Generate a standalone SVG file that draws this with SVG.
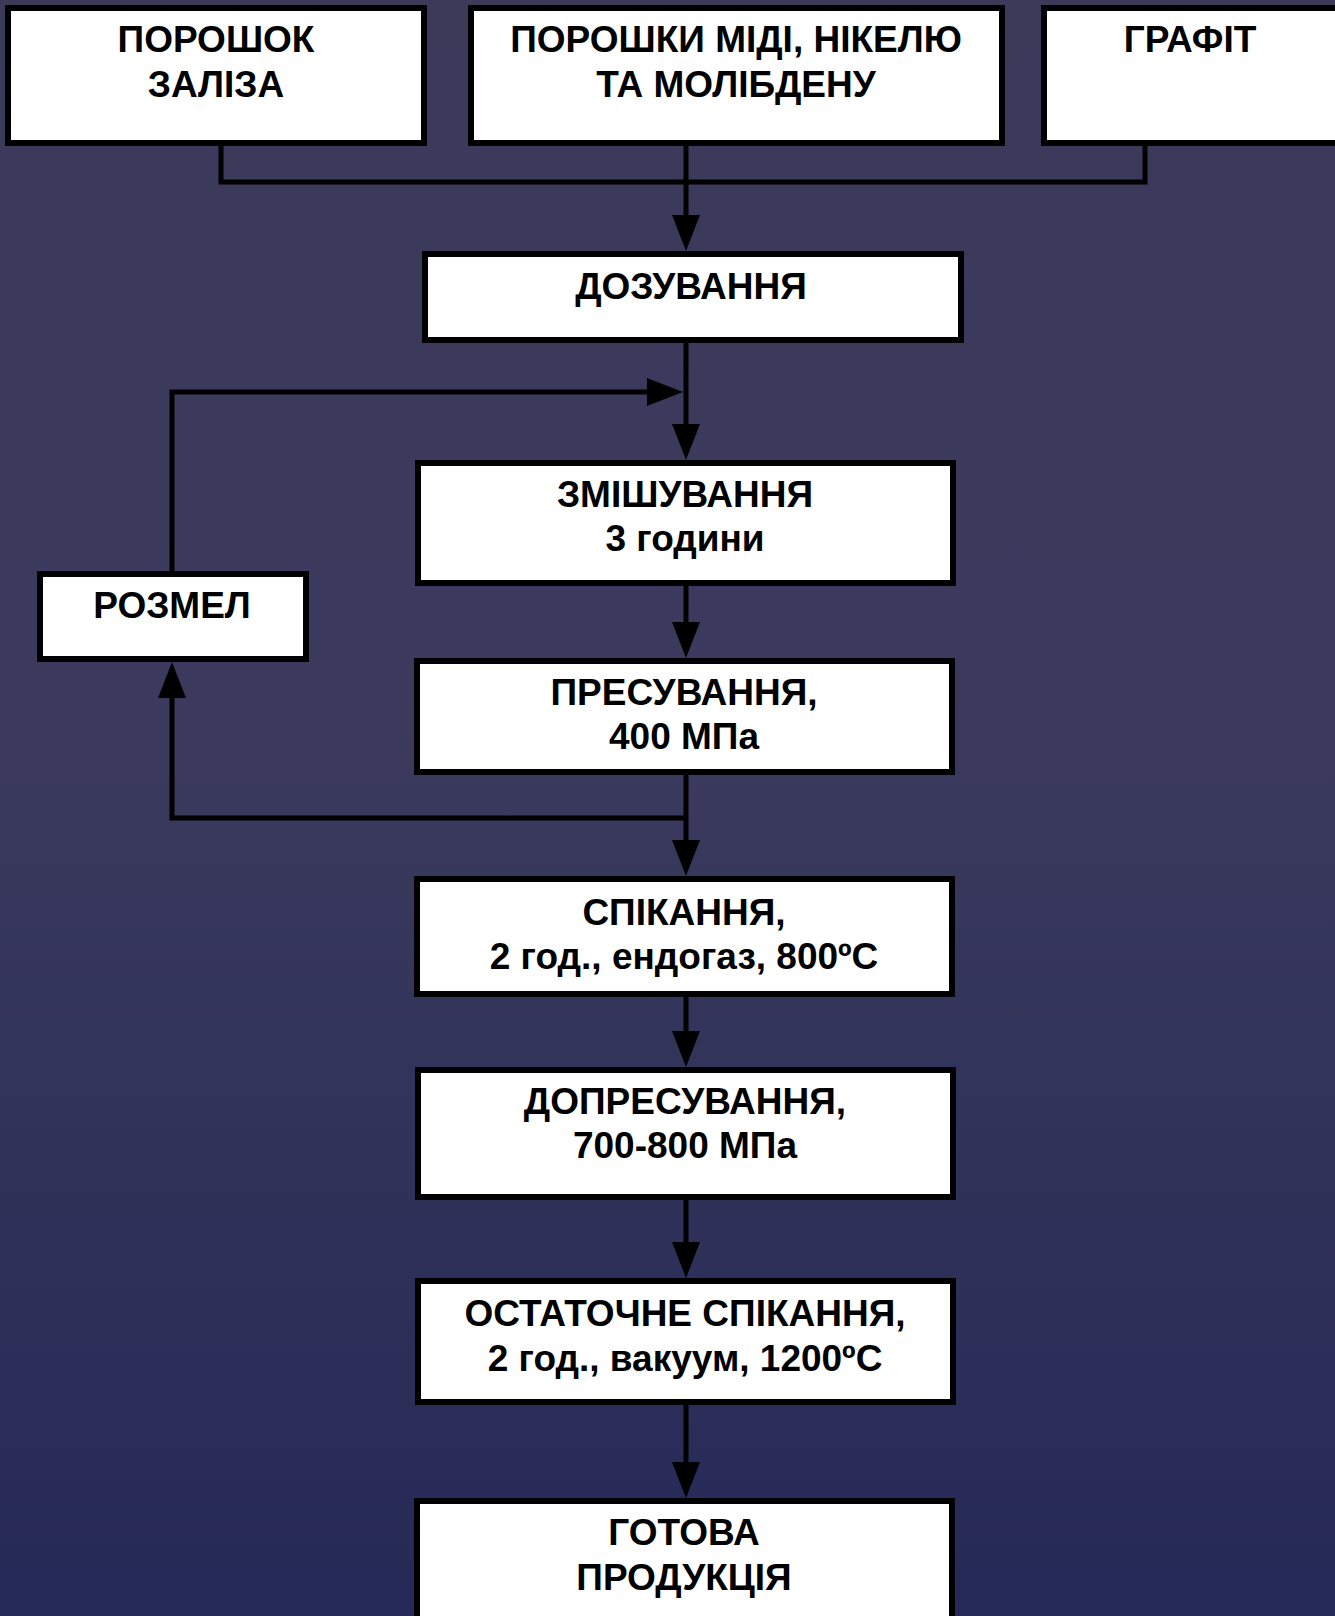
<svg xmlns="http://www.w3.org/2000/svg" width="1335" height="1616" viewBox="0 0 1335 1616">
  <defs>
    <linearGradient id="bg" x1="0" y1="0" x2="0" y2="1">
      <stop offset="0" stop-color="#3c3959"/>
      <stop offset="0.45" stop-color="#3b3a5e"/>
      <stop offset="0.75" stop-color="#2f3159"/>
      <stop offset="1" stop-color="#252957"/>
    </linearGradient>
    <marker id="arr" viewBox="0 0 36 28" refX="26" refY="14" markerWidth="36" markerHeight="28" markerUnits="userSpaceOnUse" orient="auto">
      <path d="M0,0 L36,14 L0,28 Z" fill="#000"/>
    </marker>
    <style>
      .box { fill: #fff; stroke: #000; stroke-width: 6; }
      .lbl { font-family: "Liberation Sans", Arial, sans-serif; font-weight: bold; font-size: 37px; fill: #000; text-anchor: middle; }
      .ln { fill: none; stroke: #000; stroke-width: 5; }
    </style>
  </defs>
  <rect x="0" y="0" width="1335" height="1616" fill="url(#bg)"/>

  <g id="connectors">
    <path class="ln" d="M221,143 V182 H1145 V143"/>
    <path class="ln" d="M686,143 V241" marker-end="url(#arr)"/>
    <path class="ln" d="M686,340 V450" marker-end="url(#arr)"/>
    <path class="ln" d="M172,574 V392 H673" marker-end="url(#arr)"/>
    <path class="ln" d="M686,583 V648" marker-end="url(#arr)"/>
    <path class="ln" d="M686,772 V866" marker-end="url(#arr)"/>
    <path class="ln" d="M686,818 H172 V672" marker-end="url(#arr)"/>
    <path class="ln" d="M686,994 V1057" marker-end="url(#arr)"/>
    <path class="ln" d="M686,1197 V1268" marker-end="url(#arr)"/>
    <path class="ln" d="M686,1402 V1488" marker-end="url(#arr)"/>
  </g>

  <g id="n-iron">
    <rect class="box" x="8" y="8" width="416" height="135"/>
    <text class="lbl" x="216" y="52">ПОРОШОК</text>
    <text class="lbl" x="216" y="97">ЗАЛІЗА</text>
  </g>
  <g id="n-metals">
    <rect class="box" x="471" y="8" width="531" height="135"/>
    <text class="lbl" x="736" y="52">ПОРОШКИ МІДІ, НІКЕЛЮ</text>
    <text class="lbl" x="736" y="97">ТА МОЛІБДЕНУ</text>
  </g>
  <g id="n-graphite">
    <rect class="box" x="1044" y="8" width="300" height="135"/>
    <text class="lbl" x="1190" y="52">ГРАФІТ</text>
  </g>
  <g id="n-dosing">
    <rect class="box" x="425" y="254" width="536" height="86"/>
    <text class="lbl" x="691" y="299">ДОЗУВАННЯ</text>
  </g>
  <g id="n-mixing">
    <rect class="box" x="418" y="463" width="535" height="120"/>
    <text class="lbl" x="685" y="507">ЗМІШУВАННЯ</text>
    <text class="lbl" x="685" y="551">3 години</text>
  </g>
  <g id="n-milling">
    <rect class="box" x="40" y="574" width="266" height="85"/>
    <text class="lbl" x="172" y="618">РОЗМЕЛ</text>
  </g>
  <g id="n-pressing">
    <rect class="box" x="417" y="661" width="535" height="111"/>
    <text class="lbl" x="684" y="705">ПРЕСУВАННЯ,</text>
    <text class="lbl" x="684" y="749">400 МПа</text>
  </g>
  <g id="n-sintering">
    <rect class="box" x="417" y="879" width="535" height="115"/>
    <text class="lbl" x="684" y="925">СПІКАННЯ,</text>
    <text class="lbl" x="684" y="969">2 год., ендогаз, 800ºC</text>
  </g>
  <g id="n-repressing">
    <rect class="box" x="418" y="1070" width="535" height="127"/>
    <text class="lbl" x="685" y="1114">ДОПРЕСУВАННЯ,</text>
    <text class="lbl" x="685" y="1158">700-800 МПа</text>
  </g>
  <g id="n-final-sintering">
    <rect class="box" x="418" y="1281" width="535" height="121"/>
    <text class="lbl" x="685" y="1326">ОСТАТОЧНЕ СПІКАННЯ,</text>
    <text class="lbl" x="685" y="1371">2 год., вакуум, 1200ºC</text>
  </g>
  <g id="n-product">
    <rect class="box" x="417" y="1501" width="535" height="135"/>
    <text class="lbl" x="684" y="1545">ГОТОВА</text>
    <text class="lbl" x="684" y="1590">ПРОДУКЦІЯ</text>
  </g>
</svg>
